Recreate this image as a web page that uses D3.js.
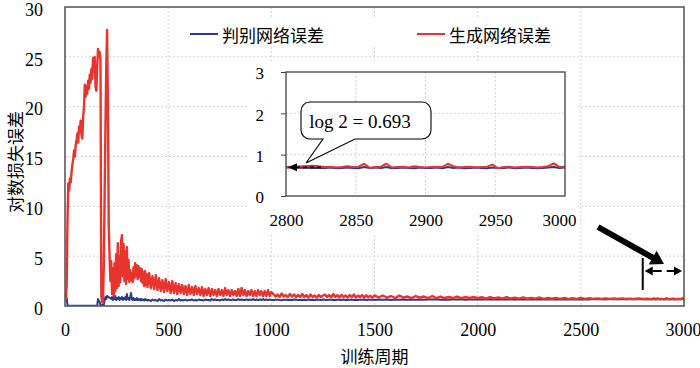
<!DOCTYPE html>
<html><head><meta charset="utf-8">
<script src="https://cdn.jsdelivr.net/npm/d3@7"></script>
<style>body{margin:0;background:#fff}svg{display:block}
.sf{font-family:"Liberation Serif","Times New Roman",serif}
.cj{font-family:"Noto Sans CJK SC","Noto Sans",sans-serif}</style>
</head><body><svg id="c" width="700" height="368"></svg>
<script>
// ---------- data ----------
const xTicks = [0, 500, 1000, 1500, 2000, 2500, 3000];
const yTicks = [0, 5, 10, 15, 20, 25, 30];
const insetXTicks = [2800, 2850, 2900, 2950, 3000];
const insetYTicks = [0, 1, 2, 3];
const seriesNames = ["判别网络误差", "生成网络误差"];
const xTitle = "训练周期";
const yTitle = "对数损失误差";
const calloutText = "log 2 = 0.693";
const log2 = 0.693;

// epochs of each segment: start + i*step
const segStart = [0, 224, 408, 1010, 1520, 2828];
const segStep = [4, 4, 8, 10, 20, 4];

const redSeg1 = [0.7,0.7,2.0,8.5,12.3,11.6,12.8,12.4,13.5,14.2,14.8,15.6,15.0,16.2,16.6,17.3,16.4,18.0,17.5,18.6,
  17.2,16.8,19.0,20.0,22.2,21.0,22.0,21.3,22.6,21.8,23.2,22.4,23.8,22.8,24.9,23.5,25.0,22.0,21.6,24.0,
  25.8,25.0,25.5,24.6,1.0,0.4,0.3,4.0,11.0,18.0,24.0,27.7,20.0,8.0,5.0,2.5];
const redSeg2 = [4.5,1.2,3.8,1.0,4.3,1.5,5.2,1.8,6.3,2.0,5.0,2.4,6.5,7.1,3.0,6.2,2.5,5.5,2.2,5.9,
  2.7,4.6,2.4,3.6,2.6,3.3,2.4,3.9,2.8,4.3,3.0,4.1,2.7,4.0,2.9,3.8,2.5,3.7,2.3,3.4,2.0,3.5,2.1,3.2,1.9];
const redSeg3 = [3.3,1.8,3.0,1.7,3.1,1.6,2.8,1.5,2.6,1.4, 2.7,1.5,2.4,1.3,2.5,1.3,2.3,1.2,2.2,1.3,
  2.1,1.2,2.0,1.1,2.1,1.2,1.9,1.1,2.0,1.2, 1.8,1.1,1.9,1.0,1.7,1.1,1.8,1.0,1.7,1.1,
  1.6,1.0,1.7,1.1,1.6,1.0,1.8,1.1,1.6,1.0, 1.6,1.1,1.5,1.0,1.7,1.0,1.8,1.1,1.6,1.0,
  1.5,1.1,1.6,1.0,1.5,1.0,1.6,1.1,1.5,1.0, 1.5,1.0,1.6,1.0,1.4];
const redSeg4 = [1.2,0.95,1.15,0.9,1.25,0.95,1.1,0.9,1.2,0.95, 1.15,0.9,1.1,0.9,1.2,0.9,1.1,0.85,1.15,0.9,
  1.05,0.85,1.1,0.9,1.05,1.15,0.9,1.1,0.88,1.2, 0.9,1.1,0.86,1.12,0.9,1.05,0.85,1.1,0.88,1.15,
  0.86,1.05,0.88,1.1,0.85,1.08,0.87,1.02,0.84,1.06];
const redSeg5 = [0.85,1.05,0.85,1.0,0.8,1.05,0.85,0.95,0.8,1.0, 0.85,0.95,0.8,1.0,0.8,0.95,0.8,0.9,0.8,0.95, 0.78,0.9,0.8,0.92,0.78,
  0.9,0.75,0.88,0.76,0.85,0.74,0.88,0.75,0.84,0.74, 0.86,0.73,0.82,0.74,0.85,0.72,0.8,0.73,0.82,0.72, 0.8,0.72,0.78,0.71,0.8,
  0.72,0.78,0.71,0.77,0.7,0.76,0.71,0.75,0.7,0.76, 0.7,0.74,0.7,0.75,0.7,0.73];
const redSeg6 = [0.70,0.71,0.69,0.70,0.72,0.70,0.71,0.78,0.68,0.70, 0.71,0.78,0.69,0.70,0.71,0.69,0.72,0.70,0.69,0.70,
  0.71,0.70,0.78,0.72,0.69,0.70,0.71,0.69,0.70,0.71, 0.76,0.67,0.70,0.71,0.69,0.70,0.71,0.70,0.69,0.70, 0.72,0.79,0.70,0.71];

const blueSeg1 = [0.6,1.0,0.8,0.1,
  0.03,0.03,0.03,0.03,0.03,0.03,0.03,0.03,0.03,0.03,0.03,0.03,0.03,0.03,0.03,0.03,0.03,0.03,0.03,0.03,
  0.03,0.03,0.03,0.03,0.03,0.03,0.03,0.03,0.03,0.03,0.03,0.03,0.03,0.03,0.03,0.03,
  0.7,0.5,0.4,0.1,0.05,0.1,0.2,0.1,0.6,0.9,0.7,1.0];
const blueSeg2 = [0.7,0.9,0.6,0.8,0.7,1.0,0.6,0.8,0.7,0.9, 0.6,0.8,0.7,0.9,0.6,0.8,0.7,0.9,0.6,1.2,
  0.7,0.8,0.6,0.9,1.3,0.7,0.6,0.8,0.6,0.7, 0.6,0.8,0.6,0.7,0.6,0.7,0.55,0.7,0.6,0.65, 0.55,0.7,0.6,0.65,0.55];
const blueSeg3 = [0.6,0.5,0.65,0.55,0.6,0.5,0.7,0.55,0.6,0.5, 0.65,0.55,0.6,0.55,0.65,0.5,0.6,0.55,0.7,0.55,
  0.6,0.55,0.65,0.55,0.6,0.6,0.65,0.55,0.6,0.55, 0.65,0.6,0.6,0.55,0.65,0.6,0.6,0.55,0.7,0.6,
  0.65,0.6,0.6,0.55,0.65,0.6,0.7,0.6,0.65,0.6, 0.6,0.65,0.6,0.6,0.7,0.6,0.65,0.6,0.6,0.65,
  0.6,0.65,0.6,0.7,0.6,0.65,0.6,0.65,0.6,0.7, 0.6,0.65,0.6,0.65,0.6];
const blueSeg4 = [0.6,0.62,0.64,0.6,0.58,0.62,0.63,0.6,0.62,0.6, 0.65,0.62,0.59,0.61,0.63,0.6,0.61,0.64,0.6,0.62,
  0.6,0.63,0.62,0.6,0.65,0.62,0.6,0.63,0.64,0.6, 0.61,0.63,0.62,0.6,0.66,0.61,0.6,0.64,0.62,0.61,
  0.62,0.6,0.64,0.62,0.65,0.61,0.63,0.62,0.64,0.61];
const blueSeg5 = [0.64,0.62,0.66,0.61,0.65,0.63,0.66,0.62,0.65,0.63, 0.66,0.62,0.65,0.64,0.67,0.62,0.66,0.63,0.65,0.64, 0.67,0.63,0.66,0.64,0.67,
  0.64,0.67,0.65,0.68,0.64,0.67,0.65,0.68,0.65,0.67, 0.64,0.68,0.66,0.67,0.65,0.68,0.66,0.67,0.65,0.68, 0.66,0.68,0.65,0.67,0.66,
  0.68,0.66,0.69,0.67,0.68,0.66,0.69,0.67,0.68,0.67, 0.69,0.67,0.68,0.67,0.69,0.68];
const blueSeg6 = [0.68,0.69,0.67,0.68,0.69,0.68,0.67,0.70,0.68,0.69, 0.68,0.70,0.67,0.68,0.69,0.68,0.67,0.69,0.68,0.68,
  0.69,0.67,0.70,0.68,0.69,0.67,0.68,0.69,0.68,0.67, 0.69,0.68,0.68,0.69,0.67,0.68,0.69,0.68,0.67,0.68, 0.69,0.70,0.68,0.69];

// ---------- build ----------
function build(segs){
  const pts = [];
  segs.forEach((vals,k)=>vals.forEach((v,i)=>pts.push([segStart[k]+i*segStep[k], v])));
  return pts;
}
const blueData = build([blueSeg1,blueSeg2,blueSeg3,blueSeg4,blueSeg5,blueSeg6]);
const redData  = build([redSeg1,redSeg2,redSeg3,redSeg4,redSeg5,redSeg6]);
const insetBlue = blueData.filter(d=>d[0]>=2800);
const insetRed  = redData.filter(d=>d[0]>=2800);

const BLUE = "#2b3a8e", RED = "#e8342c";

const svg = d3.select("#c");
const M = {l:65, r:684, t:7, b:306};
const x = d3.scaleLinear().domain([0,3000]).range([M.l,M.r]);
const y = d3.scaleLinear().domain([0,30]).range([M.b,M.t]);

// gridlines
const grid = svg.append("g").attr("stroke","#d4d4d4").attr("stroke-dasharray","2,2").attr("stroke-width",1);
xTicks.slice(1,-1).forEach(t=>grid.append("line").attr("x1",x(t)).attr("x2",x(t)).attr("y1",M.t).attr("y2",M.b));
yTicks.slice(1,-1).forEach(t=>grid.append("line").attr("x1",M.l).attr("x2",M.r).attr("y1",y(t)).attr("y2",y(t)));

svg.append("clipPath").attr("id","mc").append("rect").attr("x",M.l).attr("y",M.t-3).attr("width",M.r-M.l).attr("height",M.b-M.t+3);
const line = d3.line().x(d=>x(d[0])).y(d=>y(d[1]));
const gl = svg.append("g").attr("clip-path","url(#mc)").attr("fill","none").attr("stroke-linejoin","round");
gl.append("path").datum(blueData).attr("d",line).attr("stroke",BLUE).attr("stroke-width",2);
gl.append("path").datum(redData).attr("d",line).attr("stroke",RED).attr("stroke-width",2.4);

// frame
svg.append("rect").attr("x",M.l).attr("y",M.t).attr("width",M.r-M.l).attr("height",M.b-M.t)
  .attr("fill","none").attr("stroke","#5a5a5a").attr("stroke-width",1.6);

// axes labels
const xa = svg.append("g").attr("transform",`translate(0,${M.b})`)
  .call(d3.axisBottom(x).tickValues(xTicks).tickSize(0).tickPadding(17).tickFormat(d3.format("d")));
xa.select(".domain").remove();
xa.attr("font-family",null).attr("font-size",null);
xa.selectAll("text").attr("class","sf").style("font-size","18px").attr("fill","#000");
xa.selectAll(".tick").filter(d=>d===3000).select("text").attr("dx","-1");
const ya = svg.append("g").attr("transform",`translate(${M.l},0)`)
  .call(d3.axisLeft(y).tickValues(yTicks).tickSize(0).tickPadding(22).tickFormat(d3.format("d")));
ya.select(".domain").remove();
ya.attr("font-family",null).attr("font-size",null);
ya.selectAll("text").attr("class","sf").style("font-size","18px").attr("fill","#000").attr("dy","0.46em");

svg.append("text").attr("class","cj").attr("x",(M.l+M.r)/2).attr("y",355).attr("text-anchor","middle").attr("dominant-baseline","central")
  .style("font-size","17px").text(xTitle);
svg.append("text").attr("class","cj").attr("transform","translate(14,162) rotate(-90)").attr("text-anchor","middle").attr("dominant-baseline","central")
  .style("font-size","17px").text(yTitle);

// legend
svg.append("rect").attr("x",186).attr("y",19).attr("width",380).attr("height",28).attr("fill","#fff");
const legend = [{name:seriesNames[0],c:BLUE,x:190},{name:seriesNames[1],c:RED,x:417}];
legend.forEach(l=>{
  svg.append("line").attr("x1",l.x).attr("x2",l.x+28).attr("y1",34).attr("y2",34).attr("stroke",l.c).attr("stroke-width",2);
  svg.append("text").attr("class","cj").attr("x",l.x+32).attr("y",34).attr("dominant-baseline","central")
    .style("font-size","17px").text(l.name);
});

// ---------- inset ----------
const I = {l:286, r:565, t:72, b:196};
const xi = d3.scaleLinear().domain([2800,3000]).range([I.l,I.r]);
const yi = d3.scaleLinear().domain([0,3]).range([I.b,I.t]);
svg.append("rect").attr("x",248).attr("y",62).attr("width",330).attr("height",172).attr("fill","#fff");
const gi = svg.append("g").attr("stroke","#d4d4d4").attr("stroke-dasharray","2,2").attr("stroke-width",1);
insetXTicks.slice(1,-1).forEach(t=>gi.append("line").attr("x1",xi(t)).attr("x2",xi(t)).attr("y1",I.t).attr("y2",I.b));
insetYTicks.slice(1,-1).forEach(t=>gi.append("line").attr("x1",I.l).attr("x2",I.r).attr("y1",yi(t)).attr("y2",yi(t)));
const li = d3.line().x(d=>xi(d[0])).y(d=>yi(d[1]));
const gli = svg.append("g").attr("fill","none").attr("stroke-linejoin","round");
gli.append("path").datum(insetBlue).attr("d",li).attr("stroke",BLUE).attr("stroke-width",2);
gli.append("path").datum(insetRed).attr("d",li).attr("stroke",RED).attr("stroke-width",2);
svg.append("rect").attr("x",I.l).attr("y",I.t).attr("width",I.r-I.l).attr("height",I.b-I.t)
  .attr("fill","none").attr("stroke","#404040").attr("stroke-width",1.3);
const xia = svg.append("g").attr("transform",`translate(0,${I.b})`)
  .call(d3.axisBottom(xi).tickValues(insetXTicks).tickSize(0).tickPadding(18).tickFormat(d3.format("d")));
xia.select(".domain").remove();
xia.attr("font-family",null).attr("font-size",null);
xia.selectAll("text").attr("class","sf").style("font-size","17px").attr("fill","#000");
xia.selectAll(".tick").filter(d=>d===3000).select("text").attr("dx","-6");
const yia = svg.append("g").attr("transform",`translate(${I.l},0)`)
  .call(d3.axisLeft(yi).tickValues(insetYTicks).tickSize(5).tickPadding(17).tickFormat(d3.format("d")));
yia.select(".domain").remove();
yia.attr("font-family",null).attr("font-size",null);
yia.selectAll("line").attr("stroke","#404040");
yia.selectAll("text").attr("class","sf").style("font-size","17px").attr("fill","#000").attr("dy","0.4em");

// callout
const cb = {x1:301, y1:102, x2:431, y2:139, r:9};
const tip = [306, 163];
const cp = d3.path();
cp.moveTo(cb.x1+cb.r, cb.y1);
cp.lineTo(cb.x2-cb.r, cb.y1); cp.arcTo(cb.x2, cb.y1, cb.x2, cb.y1+cb.r, cb.r);
cp.lineTo(cb.x2, cb.y2-cb.r); cp.arcTo(cb.x2, cb.y2, cb.x2-cb.r, cb.y2, cb.r);
cp.lineTo(355, cb.y2); cp.lineTo(tip[0], tip[1]); cp.lineTo(323, cb.y2);
cp.lineTo(cb.x1+cb.r, cb.y2); cp.arcTo(cb.x1, cb.y2, cb.x1, cb.y2-cb.r, cb.r);
cp.lineTo(cb.x1, cb.y1+cb.r); cp.arcTo(cb.x1, cb.y1, cb.x1+cb.r, cb.y1, cb.r);
cp.closePath();
svg.append("path").attr("d",cp.toString()).attr("fill","#fff").attr("stroke","#000").attr("stroke-width",1.1);
svg.append("text").attr("class","sf").attr("x",(cb.x1+cb.x2)/2-6).attr("y",(cb.y1+cb.y2)/2+1).attr("text-anchor","middle")
  .attr("dominant-baseline","central").style("font-size","19px").text(calloutText);

// dashed arrow to log2
const ay = yi(log2), ax = xi(2800)+2;
svg.append("line").attr("x1",ax+8).attr("x2",321).attr("y1",ay).attr("y2",ay)
  .attr("stroke","#000").attr("stroke-width",1.6).attr("stroke-dasharray","4,3");
svg.append("path").attr("d",`M${ax},${ay}L${ax+9},${ay-4}L${ax+9},${ay+4}Z`).attr("fill","#000");

// big arrow pointing at the tail
const a0 = [598,227], a1 = [664,264];
const dx = a1[0]-a0[0], dy = a1[1]-a0[1], len = Math.hypot(dx,dy);
const ux = dx/len, uy = dy/len, hl = 13, hw = 8;
const bx = a1[0]-ux*hl, by = a1[1]-uy*hl;
svg.append("line").attr("x1",a0[0]).attr("y1",a0[1]).attr("x2",bx+ux).attr("y2",by+uy)
  .attr("stroke","#000").attr("stroke-width",6);
svg.append("path").attr("d",`M${a1[0]},${a1[1]}L${bx-uy*hw},${by+ux*hw}L${bx+uy*hw},${by-ux*hw}Z`).attr("fill","#000");

// range marker 2800 - 3000
const vx = x(2800), ry = 271;
svg.append("line").attr("x1",vx).attr("x2",vx).attr("y1",258).attr("y2",290).attr("stroke","#000").attr("stroke-width",2);
const lx = vx+2, rx = x(3000)-2;
svg.append("line").attr("x1",lx+8).attr("x2",rx-8).attr("y1",ry).attr("y2",ry)
  .attr("stroke","#000").attr("stroke-width",2).attr("stroke-dasharray","9,5");
svg.append("path").attr("d",`M${lx},${ry}L${lx+8},${ry-4.5}L${lx+8},${ry+4.5}Z`).attr("fill","#000");
svg.append("path").attr("d",`M${rx},${ry}L${rx-8},${ry-4.5}L${rx-8},${ry+4.5}Z`).attr("fill","#000");
</script></body></html>
